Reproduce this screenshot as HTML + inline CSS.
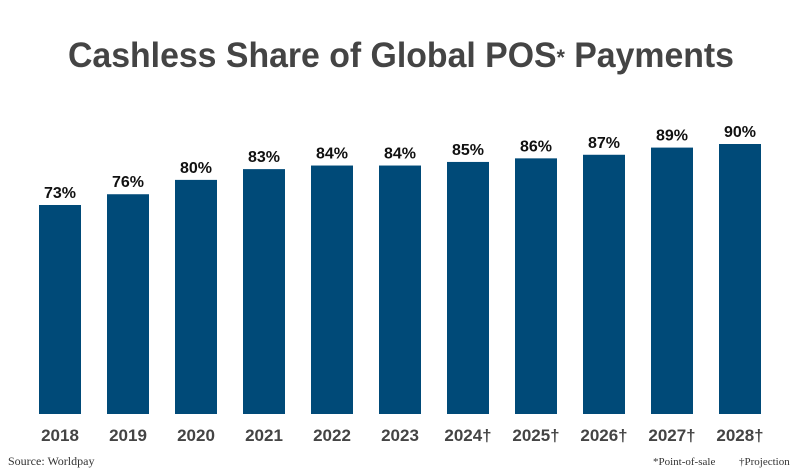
<!DOCTYPE html>
<html><head><meta charset="utf-8"><style>
html,body{margin:0;padding:0;background:#fff;}
svg{display:block;}
</style></head><body>
<svg id="chart" width="800" height="475" viewBox="0 0 800 475" xmlns="http://www.w3.org/2000/svg">
  <rect width="800" height="475" fill="#fff"/>
  <text x="401" y="67" text-anchor="middle" font-family="'Liberation Sans', sans-serif" font-weight="bold" font-size="35" fill="#444444" textLength="666" lengthAdjust="spacingAndGlyphs">Cashless Share of Global POS<tspan font-size="22" dy="-2">*</tspan><tspan dy="2"> Payments</tspan></text>
  <g id="bars"></g>
  <g id="xlabels"></g>
  <g id="vlabels"></g>
  <text x="8" y="465" font-family="'Liberation Serif', serif" font-size="12" fill="#333">Source: Worldpay</text>
  <text x="653" y="465" font-family="'Liberation Serif', serif" font-size="11" fill="#333">*Point-of-sale</text>
  <text x="739" y="465" font-family="'Liberation Serif', serif" font-size="11" fill="#333">†Projection</text>
</svg>
<script>
const categories = ["2018","2019","2020","2021","2022","2023","2024†","2025†","2026†","2027†","2028†"];
const values = [73,76,80,83,84,84,85,86,87,89,90];
const valueLabels = ["73%","76%","80%","83%","84%","84%","85%","86%","87%","89%","90%"];

const NS = "http://www.w3.org/2000/svg";
const baseY = 414, pxPer = 3.588, vMin = 14.75;
function y(v){ return baseY - (v - vMin) * pxPer; }
const x0 = 60, step = 68, barW = 42;
function xc(i){ return x0 + i * step; }

const bars = document.getElementById('bars');
const xl = document.getElementById('xlabels');
const vl = document.getElementById('vlabels');
categories.forEach((c, i) => {
  const r = document.createElementNS(NS, 'rect');
  
  
  r.setAttribute('x', xc(i) - barW/2);
  r.setAttribute('y', y(values[i]));
  r.setAttribute('width', barW);
  r.setAttribute('height', baseY - y(values[i]));
  r.setAttribute('fill', '#004a78');
  bars.appendChild(r);

  const t = document.createElementNS(NS, 'text');
  
  
  t.setAttribute('x', xc(i));
  t.setAttribute('y', y(values[i]) - 7);
  t.setAttribute('text-anchor', 'middle');
  t.setAttribute('font-family', "'Liberation Sans', sans-serif");
  t.setAttribute('font-size', '16');
  t.setAttribute('font-weight', 'bold');
  t.setAttribute('fill', '#111');
  t.textContent = valueLabels[i];
  vl.appendChild(t);

  const l = document.createElementNS(NS, 'text');
  
  
  l.setAttribute('x', xc(i));
  l.setAttribute('y', 441);
  l.setAttribute('text-anchor', 'middle');
  l.setAttribute('font-family', "'Liberation Sans', sans-serif");
  l.setAttribute('font-size', '17');
  l.setAttribute('font-weight', 'bold');
  l.setAttribute('fill', '#444');
  l.textContent = c;
  xl.appendChild(l);
});
</script>
</body></html>
